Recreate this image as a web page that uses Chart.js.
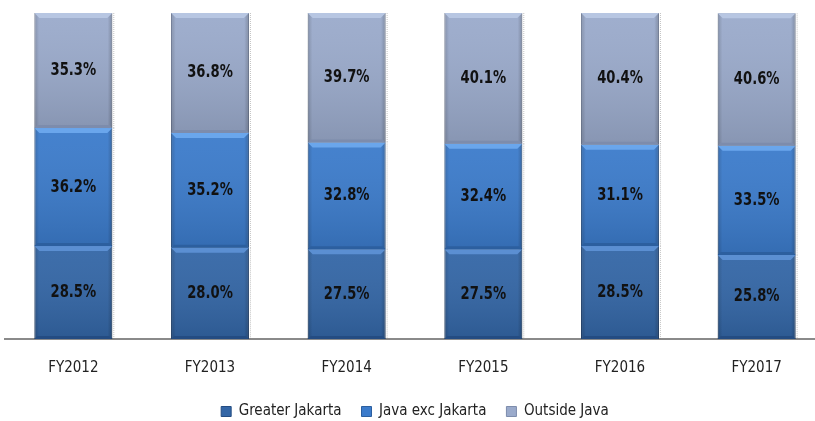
<!DOCTYPE html>
<html>
<head>
<meta charset="utf-8">
<script src="https://cdn.jsdelivr.net/npm/chart.js@4/dist/chart.umd.min.js"></script>
<style>
html,body{margin:0;padding:0;background:#fff;overflow:hidden;}
#wrap{position:absolute;left:0;top:0;width:830px;height:421px;}
</style>
</head>
<body>
<div id="wrap"><canvas id="c"></canvas></div>
<script>
const categories = ['FY2012','FY2013','FY2014','FY2015','FY2016','FY2017'];
const greaterJakarta = [28.5, 28.0, 27.5, 27.5, 28.5, 25.8];
const javaExcJakarta = [36.2, 35.2, 32.8, 32.4, 31.1, 33.5];
const outsideJava    = [35.3, 36.8, 39.7, 40.1, 40.4, 40.6];
const seriesNames = ['Greater Jakarta', 'Java exc Jakarta', 'Outside Java'];

const baseColors = ['#3366a6', '#3b7bcb', '#9aaacb'];
const lightColors = ['#5b8fd2', '#6aa6ec', '#b7c6e2'];
const darkColors = ['#244c82', '#2c5f9f', '#7d8cac'];

const legendHeightPlugin = {
  id: 'legendHeight',
  beforeLayout(chart) {
    const lg = chart.legend;
    if (lg && !lg._patched) {
      const orig = lg.fit;
      lg.fit = function() { orig.call(this); this.height = 37; };
      lg._patched = true;
    }
  }
};

const bevelPlugin = {
  id: 'bevel',
  afterDatasetsDraw(chart) {
    const ctx = chart.ctx;
    chart.data.datasets.forEach((ds, di) => {
      const meta = chart.getDatasetMeta(di);
      meta.data.forEach((el) => {
        const p = el.getProps(['x','y','base','width'], true);
        const l = p.x - p.width/2, r = p.x + p.width/2, t = p.y, b = p.base;
        ctx.save();
        const g = ctx.createLinearGradient(l, 0, r, 0);
        g.addColorStop(0, 'rgba(0,0,0,0.18)');
        g.addColorStop(0.06, 'rgba(0,0,0,0.0)');
        g.addColorStop(0.94, 'rgba(0,0,0,0.0)');
        g.addColorStop(1, 'rgba(0,0,0,0.22)');
        ctx.fillStyle = g;
        ctx.fillRect(l, t, r - l, b - t);
        const gv = ctx.createLinearGradient(0, t, 0, b);
        gv.addColorStop(0, 'rgba(255,255,255,0.05)');
        gv.addColorStop(1, 'rgba(0,0,0,0.12)');
        ctx.fillStyle = gv;
        ctx.fillRect(l, t, r - l, b - t);
        ctx.fillStyle = lightColors[di];
        ctx.beginPath();
        ctx.moveTo(l, t);
        ctx.lineTo(r, t);
        ctx.lineTo(r - 5, t + 5);
        ctx.lineTo(l + 5, t + 5);
        ctx.closePath();
        ctx.fill();
        ctx.fillStyle = darkColors[di];
        ctx.beginPath();
        ctx.moveTo(l, b);
        ctx.lineTo(r, b);
        ctx.lineTo(r - 3, b - 3);
        ctx.lineTo(l + 3, b - 3);
        ctx.closePath();
        ctx.fill();
        // faint dotted shadow on right edge
        ctx.strokeStyle = 'rgba(120,120,120,0.45)';
        ctx.setLineDash([1, 1]);
        ctx.lineWidth = 1;
        ctx.beginPath();
        ctx.moveTo(r + 1.5, t);
        ctx.lineTo(r + 1.5, b);
        ctx.stroke();
        ctx.restore();
      });
    });
    ctx.save();
    ctx.font = 'bold 17px "Liberation Sans Narrow", "DejaVu Sans Condensed", "Liberation Sans", sans-serif';
    ctx.fillStyle = '#111';
    ctx.textAlign = 'center';
    ctx.textBaseline = 'middle';
    chart.data.datasets.forEach((ds, di) => {
      const meta = chart.getDatasetMeta(di);
      meta.data.forEach((el, i) => {
        const p = el.getProps(['x','y','base'], true);
        const cy = (p.y + p.base) / 2;
        ctx.save();
        ctx.translate(p.x, cy);
        ctx.scale(0.86, 1);
        ctx.fillText(ds.data[i].toFixed(1) + '%', 0, 0);
        ctx.restore();
      });
    });
    ctx.restore();
  }
};

const datasets = [greaterJakarta, javaExcJakarta, outsideJava].map((d, i) => ({
  label: seriesNames[i],
  data: d,
  backgroundColor: baseColors[i],
  borderColor: darkColors[i],
  borderWidth: 1,
  borderSkipped: false,
  categoryPercentage: 1,
  barPercentage: 0.57
}));

new Chart(document.getElementById('c'), {
  type: 'bar',
  data: { labels: categories, datasets },
  options: {
    responsive: true,
    maintainAspectRatio: false,
    animation: false,
    layout: { padding: { left: 5, right: 5, top: 13, bottom: 0 } },
    plugins: {
      legend: {
        position: 'bottom',
        labels: {
          boxWidth: 10, boxHeight: 10, padding: 20,
          color: '#222',
          font: { size: 15, family: '"Liberation Sans Narrow", "DejaVu Sans Condensed", sans-serif' }
        }
      },
      tooltip: { enabled: false }
    },
    scales: {
      x: {
        stacked: true,
        grid: { display: false },
        border: { display: true, color: '#8a8a8a', width: 2 },
        ticks: { color: '#222', padding: 12, font: { size: 15, family: '"Liberation Sans Narrow", "DejaVu Sans Condensed", sans-serif' } },
        afterFit(scale) { scale.height = 45; }
      },
      y: {
        stacked: true,
        display: false,
        min: 0, max: 100
      }
    }
  },
  plugins: [legendHeightPlugin, bevelPlugin]
});
</script>
</body>
</html>
